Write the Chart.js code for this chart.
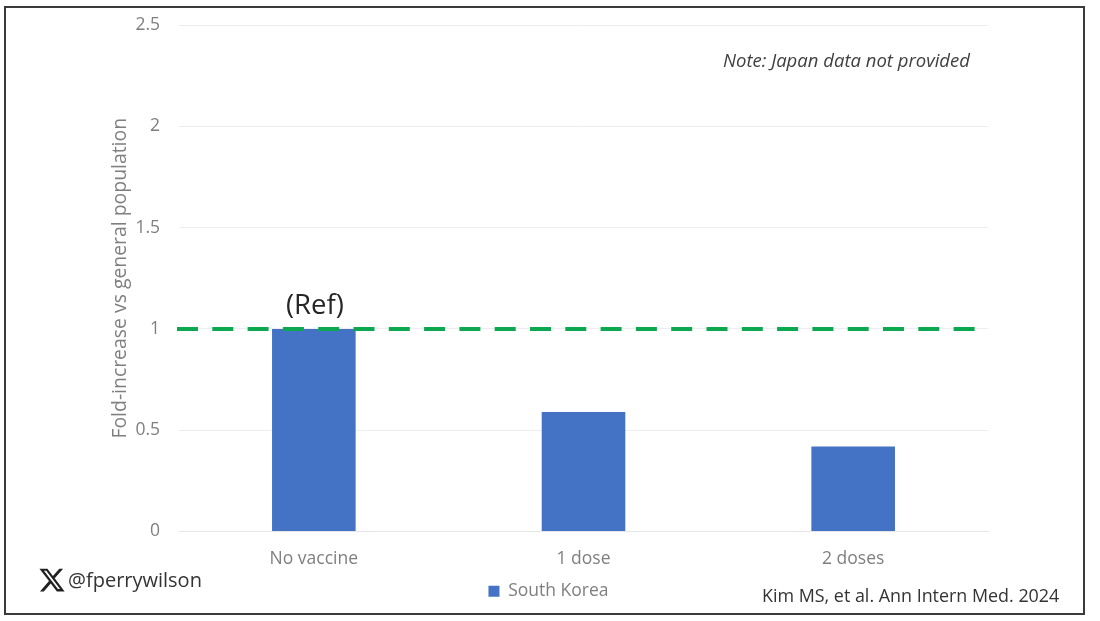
<!DOCTYPE html>
<html>
<head>
<meta charset="utf-8">
<title>Fold-increase vs general population</title>
<script src="https://cdn.jsdelivr.net/npm/chart.js@4"></script>
<style>
  html, body { margin: 0; padding: 0; background: #fff; }
  body { width: 1100px; height: 621px; position: relative; overflow: hidden; font-family: "Open Sans", sans-serif; }
  #frame { position: absolute; left: 4px; top: 6px; width: 1077px; height: 605px; border: 2px solid #3a3a3a; }
  #wrap { position: absolute; left: 0; top: 0; width: 1100px; height: 621px; }
  .note { position: absolute; white-space: nowrap; line-height: 1; }
  #note { left: 723px; top: 51px; font-size: 18.5px; font-style: italic; color: #404040; }
  #ref { left: 286px; top: 290px; font-size: 27.5px; color: #262626; }
  #handle { left: 68px; top: 570px; font-size: 20px; color: #333; }
  #source { left: 762px; top: 587px; font-size: 17.9px; color: #333; }
  #xlogo { position: absolute; left: 38px; top: 566px; width: 28px; height: 28px; }
</style>
</head>
<body>
<div id="wrap"><canvas id="chart" width="1100" height="621"></canvas></div>
<div id="frame"></div>
<div class="note" id="note">Note: Japan data not provided</div>
<div class="note" id="ref">(Ref)</div>
<svg id="xlogo" viewBox="0 0 24 24"><path fill="#222" d="M18.244 2.25h3.308l-7.227 8.26 8.502 11.24H16.17l-5.214-6.817L4.99 21.75H1.68l7.73-8.835L1.254 2.25H8.08l4.713 6.231zm-1.161 17.52h1.833L7.084 4.126H5.117z"/></svg>
<div class="note" id="handle">@fperrywilson</div>
<div class="note" id="source">Kim MS, et al. Ann Intern Med. 2024</div>
<script>
const categories = ["No vaccine", "1 dose", "2 doses"];
const southKorea = [1, 0.59, 0.42];
const yTicks = [0, 0.5, 1, 1.5, 2, 2.5];
const refValue = 1;

// dashed reference line, runs slightly past the plot on the left
const refLine = {
  id: "refLine",
  afterDatasetsDraw(chart) {
    const { ctx, chartArea, scales } = chart;
    const y = scales.y.getPixelForValue(refValue);
    ctx.save();
    ctx.strokeStyle = "#0BA850";
    ctx.lineWidth = 4;
    ctx.setLineDash([21, 14.3]);
    ctx.beginPath();
    ctx.moveTo(chartArea.left - 2, y);
    ctx.lineTo(chartArea.right - 13, y);
    ctx.stroke();
    ctx.restore();
  }
};

new Chart(document.getElementById("chart").getContext("2d"), {
  type: "bar",
  data: {
    labels: categories,
    datasets: [
      {
        label: "South Korea",
        data: southKorea,
        backgroundColor: "#4472C4",
        barPercentage: 0.62,
        categoryPercentage: 0.5
      }
    ]
  },
  options: {
    responsive: false,
    animation: false,
    layout: { padding: { left: 109, right: 112, top: 25, bottom: 11 } },
    plugins: {
      legend: {
        position: "bottom",
        labels: {
          boxWidth: 11,
          boxHeight: 11,
          color: "#7f7f7f",
          font: { family: "Open Sans", size: 17.5 },
          padding: 4
        }
      },
      tooltip: { enabled: false }
    },
    scales: {
      x: {
        grid: { display: false },
        border: { color: "#e6e6e6" },
        ticks: { color: "#7f7f7f", font: { family: "Open Sans", size: 17.5 }, padding: 9 }
      },
      y: {
        min: yTicks[0],
        max: yTicks[yTicks.length - 1],
        afterBuildTicks(axis) { axis.ticks = yTicks.map(v => ({ value: v })); },
        // tick padding counts twice in the fit and also pushes the top down, so pin both
        afterFit(axis) {
          axis.width = 70;
          axis.paddingTop = 0;
        },
        grid: { color: "#ececf2", drawTicks: false },
        border: { display: false },
        ticks: { color: "#7f7f7f", font: { family: "Open Sans", size: 17.5 }, padding: 19, callback: v => v },
        title: {
          display: true,
          text: "Fold-increase vs general population",
          color: "#7f7f7f",
          font: { family: "Open Sans", size: 19.4 },
          padding: { top: 0, bottom: 6 }
        }
      }
    }
  },
  plugins: [refLine]
});
</script>
</body>
</html>
